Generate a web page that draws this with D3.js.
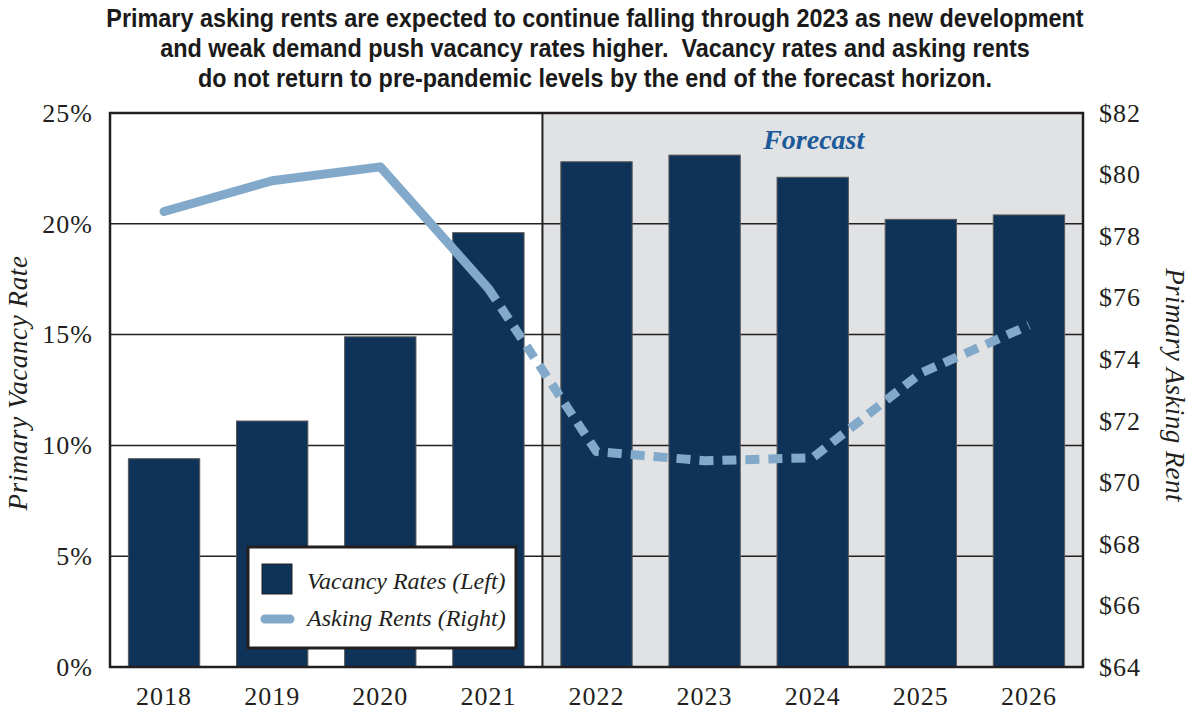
<!DOCTYPE html>
<html><head><meta charset="utf-8">
<script src="https://cdn.jsdelivr.net/npm/d3@7"></script>
<style>
html,body{margin:0;padding:0;background:#fff;}
svg{display:block;}
</style></head>
<body>
<svg id="chart" width="1191" height="719"></svg>
<script>
const years = ["2018","2019","2020","2021","2022","2023","2024","2025","2026"];
const vacancy = [9.4, 11.1, 14.9, 19.6, 22.8, 23.1, 22.1, 20.2, 20.4];
const rents = [78.8, 79.8, 80.25, 76.3, 71.0, 70.7, 70.8, 73.55, 75.1];
const leftTicks = [0, 5, 10, 15, 20, 25];
const rightTicks = [64, 66, 68, 70, 72, 74, 76, 78, 80, 82];
const forecastStart = "2022";
const titleLines = [
  "Primary asking rents are expected to continue falling through 2023 as new development",
  "and weak demand push vacancy rates higher.  Vacancy rates and asking rents",
  "do not return to pre-pandemic levels by the end of the forecast horizon."
];

const svg = d3.select("#chart");
const L = 110, R = 1083, T = 113, B = 667;
const serif = "'Liberation Serif','Times New Roman',serif";
const barColor = "#0f3358", lineColor = "#82a9c9";

const x = d3.scaleBand().domain(years).range([L, R]).paddingInner(0.34).paddingOuter(0.17);
const yL = d3.scaleLinear().domain([0, 25]).range([B, T]);
const yR = d3.scaleLinear().domain([64, 82]).range([B, T]);

// Title (condensed look)
svg.append("g").attr("transform", "translate(595,0) scale(0.9,1)")
  .selectAll("text").data(titleLines).join("text")
  .attr("x", 0).attr("y", (d,i) => 27 + i*30)
  .attr("text-anchor", "middle")
  .style("white-space", "pre")
  .style("font-family", "'Liberation Sans Narrow','Arial Narrow','Liberation Sans',sans-serif")
  .style("font-weight", "bold").style("font-size", "26px").style("fill", "#1a1a1a")
  .text(d => d);

// Forecast background
const fx = x(forecastStart) - x.step()*x.paddingInner()/2;
svg.append("rect").attr("x", fx).attr("y", T).attr("width", R - fx).attr("height", B - T)
  .attr("fill", "#e1e2e4");

// Gridlines
svg.append("g").selectAll("line").data(leftTicks.filter(d => d > 0 && d < 25)).join("line")
  .attr("x1", L).attr("x2", R).attr("y1", d => yL(d)).attr("y2", d => yL(d))
  .attr("stroke", "#231f20").attr("stroke-width", 1.5);

// Forecast divider
svg.append("line").attr("x1", fx).attr("x2", fx).attr("y1", T).attr("y2", B)
  .attr("stroke", "#231f20").attr("stroke-width", 2);

// Bars
svg.append("g").selectAll("rect").data(years).join("rect")
  .attr("x", d => x(d)).attr("width", x.bandwidth())
  .attr("y", (d,i) => yL(vacancy[i])).attr("height", (d,i) => B - yL(vacancy[i]))
  .attr("fill", barColor).attr("stroke", "#5a5a5a").attr("stroke-width", 1);

// Rent line
const pts = years.map((d,i) => [x(d) + x.bandwidth()/2, yR(rents[i])]);
const line = d3.line().curve(d3.curveLinear);
svg.append("path").attr("d", line(pts.slice(0, 4)))
  .attr("fill", "none").attr("stroke", lineColor).attr("stroke-width", 9)
  .attr("stroke-linecap", "round").attr("stroke-linejoin", "round");
svg.append("path").attr("d", line(pts.slice(3)))
  .attr("fill", "none").attr("stroke", lineColor).attr("stroke-width", 9)
  .attr("stroke-dasharray", "14 9").attr("stroke-linecap", "butt").attr("stroke-linejoin", "round");

// Plot border
svg.append("rect").attr("x", L).attr("y", T).attr("width", R - L).attr("height", B - T)
  .attr("fill", "none").attr("stroke", "#231f20").attr("stroke-width", 2.5);

// Forecast label
svg.append("text").attr("x", (fx + R)/2 + 1).attr("y", 149).attr("text-anchor", "middle")
  .style("font-family", serif).style("font-style", "italic").style("font-weight", "bold")
  .style("font-size", "28px").style("fill", "#1d5a99").text("Forecast");

const tickStyle = sel => sel.style("font-family", serif).style("font-size", "26px")
  .style("letter-spacing", "1px").style("fill", "#231f20");

// Left axis
const leftAxis = d3.axisLeft(yL).tickValues(leftTicks).tickSize(0).tickPadding(17).tickFormat(d => d + "%");
const gl = svg.append("g").attr("transform", `translate(${L},0)`).call(leftAxis);
gl.select(".domain").remove();
gl.selectAll("text").call(tickStyle);

// Right axis
const rightAxis = d3.axisRight(yR).tickValues(rightTicks).tickSize(0).tickPadding(16).tickFormat(d => "$" + d);
const gr = svg.append("g").attr("transform", `translate(${R},0)`).call(rightAxis);
gr.select(".domain").remove();
gr.selectAll("text").call(tickStyle);

// Bottom axis
const bottomAxis = d3.axisBottom(x).tickSize(0).tickPadding(20);
const gb = svg.append("g").attr("transform", `translate(0,${B})`).call(bottomAxis);
gb.select(".domain").remove();
gb.selectAll("text").call(tickStyle);

// Axis titles
svg.append("text").attr("transform", `translate(27,383) rotate(-90)`).attr("text-anchor", "middle")
  .style("font-family", serif).style("font-style", "italic").style("font-size", "27px")
  .style("letter-spacing", "0.6px").style("fill", "#231f20")
  .text("Primary Vacancy Rate");
svg.append("text").attr("transform", `translate(1166,385) rotate(90)`).attr("text-anchor", "middle")
  .style("font-family", serif).style("font-style", "italic").style("font-size", "27px")
  .style("letter-spacing", "0.4px").style("fill", "#231f20")
  .text("Primary Asking Rent");

// Legend
const lg = svg.append("g");
lg.append("rect").attr("x", 248).attr("y", 547).attr("width", 268).attr("height", 101)
  .attr("fill", "#fff").attr("stroke", "#231f20").attr("stroke-width", 3);
lg.append("rect").attr("x", 262).attr("y", 564).attr("width", 30).attr("height", 30)
  .attr("fill", barColor).attr("stroke", "#231f20").attr("stroke-width", 1);
lg.append("line").attr("x1", 265).attr("x2", 290).attr("y1", 619).attr("y2", 619)
  .attr("stroke", lineColor).attr("stroke-width", 9).attr("stroke-linecap", "round");
const legendLabels = ["Vacancy Rates (Left)", "Asking Rents (Right)"];
lg.selectAll("text.lab").data(legendLabels).join("text").attr("class", "lab")
  .attr("x", 307).attr("y", (d,i) => 589 + i*37)
  .style("font-family", serif).style("font-style", "italic").style("font-size", "24px")
  .style("fill", "#231f20")
  .text(d => d);
</script>
</body></html>
